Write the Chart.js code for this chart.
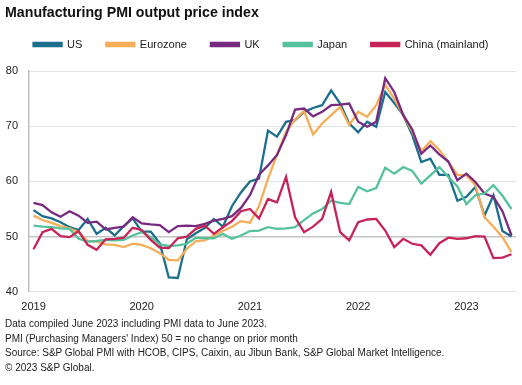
<!DOCTYPE html>
<html><head><meta charset="utf-8">
<script src="https://cdn.jsdelivr.net/npm/chart.js@4.4.1/dist/chart.umd.min.js"></script>
<style>
html,body{margin:0;padding:0;background:#fff;}
body{width:522px;height:385px;position:relative;overflow:hidden;font-family:"Liberation Sans",Arial,sans-serif;color:#222;}
#title{position:absolute;left:5px;top:4px;font-weight:bold;font-size:14.2px;line-height:16px;z-index:2;color:#111;}
#wrap{position:absolute;left:0;top:15px;width:522px;height:310px;}
#notes{position:absolute;left:5px;top:317px;font-size:10px;line-height:14.5px;color:#222;white-space:nowrap;z-index:2;}
</style></head>
<body>
<div id="title">Manufacturing PMI output price index</div>
<div id="wrap"><canvas id="c"></canvas></div>
<div id="notes">Data compiled June 2023 including PMI data to June 2023.<br>PMI (Purchasing Managers' Index) 50 = no change on prior month<br>Source: S&amp;P Global PMI with HCOB, CIPS, Caixin, au Jibun Bank, S&amp;P Global Market Intelligence.<br>© 2023 S&amp;P Global.</div>
<script>
const months = [];
for (let y = 2019; y <= 2023; y++) {
  for (let m = 1; m <= 12; m++) {
    if (y === 2023 && m > 6) break;
    months.push(y + '-' + String(m).padStart(2, '0'));
  }
}
const yearTicks = ['2019', '2020', '2021', '2022', '2023'];

const us = [54.8,53.7,53.3,52.6,51.7,51.2, 53.2,50.5,51.6,50.2,51.9,53.3,
            50.9,50.9,48.8,42.6,42.5,49.5, 50.6,51.6,53.2,51.8,55.5,58.0,
            60.0,60.5,69.2,68.1,70.8,71.1, 72.6,73.3,73.8,76.5,74.1,70.5,
            68.9,70.8,69.9,76.2,74.2,72.0, 68.4,63.5,64.1,61.2,61.2,56.5,
            57.2,59.0,53.8,57.5,51.0,50.0];
const eurozone = [53.8,53.0,52.5,51.9,51.5,50.8, 49.2,49.1,48.6,48.5,48.1,48.7,
            48.5,47.9,47.0,45.8,45.7,47.8, 49.2,49.3,50.2,51.0,51.8,52.8,
            52.5,55.5,60.5,64.8,69.0,71.2, 72.8,68.5,70.5,72.0,73.5,70.2,
            72.6,71.7,73.8,77.5,75.0,72.0, 69.0,65.4,67.3,65.7,63.5,61.2,
            61.1,59.3,53.5,51.8,49.9,47.2];
const uk = [56.1,55.7,54.4,53.6,54.6,53.8, 52.5,52.7,51.3,51.6,51.8,53.5,
            52.4,52.2,52.1,50.8,51.9,52.0, 51.9,52.3,52.9,53.2,53.7,55.2,
            57.5,61.2,62.9,64.8,68.4,73.0, 73.2,71.8,72.6,73.8,73.9,74.1,
            70.8,69.9,70.8,78.7,76.2,72.0, 69.4,65.0,66.5,64.9,63.6,60.2,
            61.4,59.9,57.8,57.2,54.6,50.2];
const japan = [52.0,51.8,51.7,51.5,51.4,49.6, 49.1,49.2,49.4,49.3,49.4,50.2,
            50.8,49.9,48.6,48.3,48.4,48.7, 49.8,49.7,49.7,50.5,49.6,50.2,
            51.0,51.1,51.7,51.4,51.5,51.7, 53.0,54.2,55.0,56.5,56.1,55.9,
            59.0,58.2,58.8,62.5,61.4,62.6, 61.9,59.6,61.1,62.6,60.8,59.1,
            55.9,57.5,57.8,59.3,57.4,55.0];
const china = [47.7,50.8,51.4,50.1,49.9,51.0, 48.5,47.6,49.5,49.6,49.8,51.6,
            51.2,49.4,48.0,47.9,49.7,50.0, 51.4,52.0,50.5,51.7,52.8,54.6,
            55.0,53.3,56.8,56.2,60.8,53.5, 50.8,51.8,53.2,58.1,50.8,49.3,
            52.6,53.1,53.2,51.1,48.1,49.6, 48.7,48.4,46.7,48.8,49.8,49.6,
            49.7,50.1,50.0,46.1,46.2,46.8];

const seriesNames = ['US', 'Eurozone', 'UK', 'Japan', 'China (mainland)'];
const seriesData = [us, eurozone, uk, japan, china];
const colors = ['#1b6f8c', '#f5ad58', '#782a80', '#55c29c', '#c62456'];

const datasets = seriesNames.map((n, k) => ({
  label: n,
  data: seriesData[k],
  borderColor: colors[k],
  backgroundColor: colors[k],
  borderWidth: 2.3,
  pointRadius: 0,
  tension: 0,
  fill: false,
  order: 5 - k
}));

const legendHeight = {
  id: 'legendHeight',
  beforeInit(chart) {
    const orig = chart.legend.fit;
    chart.legend.fit = function () { orig.call(this); this.height = 56; };
  }
};

const fontFam = '"Liberation Sans", Arial, sans-serif';

new Chart(document.getElementById('c'), {
  type: 'line',
  data: { labels: months, datasets },
  plugins: [legendHeight],
  options: {
    responsive: true,
    maintainAspectRatio: false,
    animation: false,
    layout: { padding: { left: 6, right: 6, top: 0, bottom: 2 } },
    plugins: {
      title: { display: false },
      tooltip: { enabled: false },
      legend: {
        display: true,
        position: 'top',
        align: 'center',
        labels: {
          boxWidth: 28,
          boxHeight: 3,
          padding: 24,
          color: '#222',
          font: { family: fontFam, size: 11 },
          sort: (a, b) => a.datasetIndex - b.datasetIndex
        }
      }
    },
    scales: {
      x: {
        offset: true,
        grid: { display: false, drawTicks: false },
        border: { display: false },
        ticks: {
          autoSkip: false,
          maxRotation: 0,
          padding: 9,
          color: '#222',
          font: { family: fontFam, size: 11 },
          callback: function (v, i) {
            const lab = months[i];
            return lab.endsWith('-01') ? yearTicks[yearTicks.indexOf(lab.slice(0, 4))] : '';
          }
        }
      },
      y: {
        min: 40, max: 80,
        afterFit: s => { s.width = 23; },
        ticks: {
          stepSize: 10,
          padding: 11,
          color: '#222',
          font: { family: fontFam, size: 11 }
        },
        grid: {
          drawTicks: false,
          color: ctx => (ctx.tick && ctx.tick.value === 50) ? '#c4c4c4' : '#e4e4e4',
          lineWidth: ctx => (ctx.tick && ctx.tick.value === 50) ? 1.6 : 1
        },
        border: { display: true, color: '#bdbdbd', width: 1.5 }
      }
    }
  }
});
</script>
</body></html>
